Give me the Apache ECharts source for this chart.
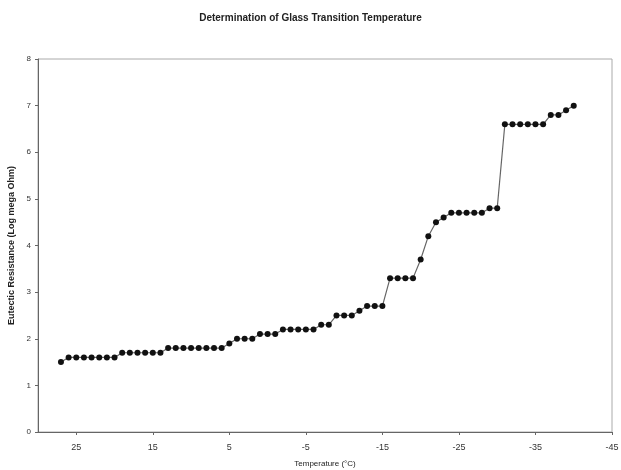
<!DOCTYPE html>
<html>
<head>
<meta charset="utf-8">
<script src="https://cdn.jsdelivr.net/npm/echarts@6/dist/echarts.min.js"></script>
<style>
    html, body { margin: 0; padding: 0; background: #fff; }
    #main { width: 621px; height: 470px; }
</style>
</head>
<body>
<div id="main"></div>
<script>
// 温度 (°C)
var temperatures = [27, 26, 25, 24, 23, 22, 21, 20, 19, 18, 17, 16, 15, 14, 13, 12, 11, 10,
    9, 8, 7, 6, 5, 4, 3, 2, 1, 0, -1, -2, -3, -4, -5, -6, -7, -8, -9, -10, -11, -12,
    -13, -14, -15, -16, -17, -18, -19, -20, -21, -22, -23, -24, -25, -26, -27, -28,
    -29, -30, -31, -32, -33, -34, -35, -36, -37, -38, -39, -40];
// 电阻 (Log mega Ohm)
var resistance = [1.5, 1.6, 1.6, 1.6, 1.6, 1.6, 1.6, 1.6, 1.7, 1.7, 1.7, 1.7, 1.7, 1.7,
    1.8, 1.8, 1.8, 1.8, 1.8, 1.8, 1.8, 1.8, 1.9, 2.0, 2.0, 2.0, 2.1, 2.1, 2.1,
    2.2, 2.2, 2.2, 2.2, 2.2, 2.3, 2.3, 2.5, 2.5, 2.5, 2.6, 2.7, 2.7, 2.7,
    3.3, 3.3, 3.3, 3.3, 3.7, 4.2, 4.5, 4.6, 4.7, 4.7, 4.7, 4.7, 4.7, 4.8, 4.8,
    6.6, 6.6, 6.6, 6.6, 6.6, 6.6, 6.8, 6.8, 6.9, 7.0];

var titleText = 'Determination of Glass Transition Temperature';
var xName = 'Temperature (°C)';
var yName = 'Eutectic Resistance (Log mega Ohm)';

function generatePoints(xs, ys) {
    var arr = [];
    for (var i = 0; i < xs.length; i++) {
        arr.push([xs[i], ys[i]]);
    }
    return arr;
}

var myChart = echarts.init(document.getElementById('main'));
var option = {
    animation: false,
    backgroundColor: '#fff',
    textStyle: { fontFamily: 'Liberation Sans' },
    title: {
        text: titleText,
        left: 'center',
        top: 8,
        textStyle: { fontSize: 10, fontWeight: 'bold', color: '#222' }
    },
    grid: {
        left: 38,
        right: 9,
        top: 59,
        bottom: 38,
        outerBoundsMode: 'none',
        show: true,
        borderColor: '#aaa',
        borderWidth: 1
    },
    xAxis: {
        type: 'value',
        inverse: true,
        min: -45,
        max: 30,
        interval: 10,
        name: xName,
        nameLocation: 'middle',
        nameGap: 28,
        nameTextStyle: { fontSize: 8, color: '#222' },
        axisLine: { onZero: false, lineStyle: { color: '#666', width: 1 } },
        axisTick: { show: true, length: 3, lineStyle: { color: '#666' } },
        axisLabel: { fontSize: 9, color: '#333', margin: 11, showMaxLabel: false },
        splitLine: { show: false }
    },
    yAxis: {
        type: 'value',
        min: 0,
        max: 8,
        interval: 1,
        name: yName,
        nameLocation: 'middle',
        nameGap: 20,
        nameTextStyle: { fontSize: 9, fontWeight: 'bold', color: '#222' },
        axisLine: { show: true, onZero: false, lineStyle: { color: '#666', width: 1 } },
        axisTick: { show: true, length: 3, lineStyle: { color: '#666' } },
        axisLabel: { fontSize: 8, color: '#333', margin: 7 },
        splitLine: { show: false }
    },
    series: [
        {
            type: 'line',
            data: generatePoints(temperatures, resistance),
            symbol: 'circle',
            symbolSize: 6,
            itemStyle: { color: '#111' },
            lineStyle: { color: '#666', width: 1.2 }
        }
    ]
};
myChart.setOption(option);
</script>
</body>
</html>
